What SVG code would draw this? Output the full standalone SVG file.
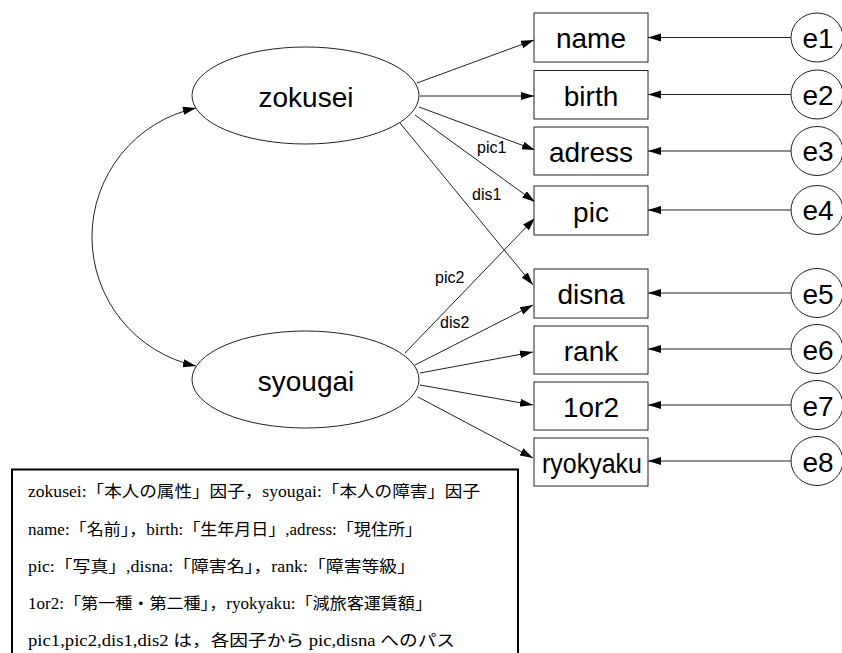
<svg xmlns="http://www.w3.org/2000/svg" width="842" height="653" viewBox="0 0 842 653">
<style>
.lat{fill:#fff;stroke:#222;stroke-width:1}
.box{fill:#fff;stroke:#222;stroke-width:1}
.t{font-family:"Liberation Sans",Arial,sans-serif;font-size:28px;fill:#000;text-anchor:middle}
.lbl{font-family:"Liberation Sans",Arial,sans-serif;font-size:16px;fill:#000}
.leg{font-family:"Liberation Serif","Noto Sans CJK JP",serif;font-size:16px;fill:#000}
.c{fill:none;stroke:#222;stroke-width:1}
</style>
<defs>
<marker id="ah" markerUnits="userSpaceOnUse" markerWidth="14" markerHeight="9" refX="13" refY="4" orient="auto">
<path d="M0,0 L13,4 L0,8 z" fill="#000"/>
</marker>
<marker id="ahs" markerUnits="userSpaceOnUse" markerWidth="14" markerHeight="9" refX="0" refY="4" orient="auto">
<path d="M13,0 L0,4 L13,8 z" fill="#000"/>
</marker>
</defs>
<rect width="842" height="653" fill="#fff"/>

<g id="connectors">
<path class="c" d="M196,108 A132,132 0 0,0 196,366" marker-start="url(#ahs)" marker-end="url(#ah)"/>
<line class="c" x1="417" y1="83" x2="534" y2="40" marker-end="url(#ah)"/>
<line class="c" x1="420" y1="96" x2="534" y2="96" marker-end="url(#ah)"/>
<line class="c" x1="419" y1="107" x2="535" y2="150" marker-end="url(#ah)"/>
<line class="c" x1="415" y1="115" x2="535" y2="202" marker-end="url(#ah)"/>
<line class="c" x1="400" y1="123" x2="533" y2="285" marker-end="url(#ah)"/>
<line class="c" x1="405" y1="353" x2="535" y2="218" marker-end="url(#ah)"/>
<line class="c" x1="415" y1="365" x2="533" y2="305" marker-end="url(#ah)"/>
<line class="c" x1="420" y1="373" x2="533" y2="352" marker-end="url(#ah)"/>
<line class="c" x1="420" y1="385" x2="533" y2="405" marker-end="url(#ah)"/>
<line class="c" x1="418" y1="397" x2="533" y2="458" marker-end="url(#ah)"/>
<line class="c" x1="791" y1="37.5" x2="648" y2="37.5" marker-end="url(#ah)"/>
<line class="c" x1="791" y1="94.5" x2="648" y2="94.5" marker-end="url(#ah)"/>
<line class="c" x1="791" y1="151" x2="648" y2="151" marker-end="url(#ah)"/>
<line class="c" x1="791" y1="210" x2="648" y2="210" marker-end="url(#ah)"/>
<line class="c" x1="791" y1="293" x2="648" y2="293" marker-end="url(#ah)"/>
<line class="c" x1="791" y1="349" x2="648" y2="349" marker-end="url(#ah)"/>
<line class="c" x1="791" y1="405" x2="648" y2="405" marker-end="url(#ah)"/>
<line class="c" x1="791" y1="461" x2="648" y2="461" marker-end="url(#ah)"/>
<text class="lbl" x="477" y="153">pic1</text>
<text class="lbl" x="472" y="200">dis1</text>
<text class="lbl" x="435" y="283">pic2</text>
<text class="lbl" x="440" y="328">dis2</text>
</g>

<g id="zokusei"><ellipse class="lat" cx="305.5" cy="95.5" rx="113.5" ry="48.5"/><text class="t" x="306" y="107">zokusei</text></g>
<g id="syougai"><ellipse class="lat" cx="305.5" cy="379.5" rx="113.5" ry="48.5"/><text class="t" x="306" y="391">syougai</text></g>

<g id="name"><rect class="box" x="534" y="13" width="114" height="49"/><text class="t" x="591" y="48">name</text></g>
<g id="birth"><rect class="box" x="534" y="70.5" width="114" height="48.5"/><text class="t" x="591" y="106">birth</text></g>
<g id="adress"><rect class="box" x="534" y="127" width="114" height="48"/><text class="t" x="591" y="162">adress</text></g>
<g id="pic"><rect class="box" x="534" y="186" width="114" height="49"/><text class="t" x="591" y="222">pic</text></g>
<g id="disna"><rect class="box" x="534" y="269" width="114" height="49"/><text class="t" x="591" y="304">disna</text></g>
<g id="rank"><rect class="box" x="534" y="326" width="114" height="48"/><text class="t" x="591" y="361">rank</text></g>
<g id="1or2"><rect class="box" x="534" y="382" width="114" height="48"/><text class="t" x="591" y="417">1or2</text></g>
<g id="ryokyaku"><rect class="box" x="534" y="438" width="114" height="48"/><text class="t" x="592" y="473" textLength="100" lengthAdjust="spacingAndGlyphs">ryokyaku</text></g>

<g id="e1"><ellipse class="lat" cx="817" cy="37.5" rx="26" ry="24.5"/><text class="t" x="818" y="48">e1</text></g>
<g id="e2"><ellipse class="lat" cx="817" cy="94.5" rx="26" ry="24.5"/><text class="t" x="818" y="105">e2</text></g>
<g id="e3"><ellipse class="lat" cx="817" cy="151" rx="26" ry="24.5"/><text class="t" x="818" y="161">e3</text></g>
<g id="e4"><ellipse class="lat" cx="817" cy="210" rx="26" ry="24.5"/><text class="t" x="818" y="220">e4</text></g>
<g id="e5"><ellipse class="lat" cx="817" cy="293" rx="26" ry="24.5"/><text class="t" x="818" y="304">e5</text></g>
<g id="e6"><ellipse class="lat" cx="817" cy="349" rx="26" ry="24.5"/><text class="t" x="818" y="360">e6</text></g>
<g id="e7"><ellipse class="lat" cx="817" cy="405" rx="26" ry="24.5"/><text class="t" x="818" y="416">e7</text></g>
<g id="e8"><ellipse class="lat" cx="817" cy="461" rx="26" ry="24.5"/><text class="t" x="818" y="472">e8</text></g>

<g id="legend">
<path d="M12,660 L12,469.5 L518,469.5 L518,660" fill="none" stroke="#000" stroke-width="2"/>
<text class="leg" x="28" y="497" textLength="452" lengthAdjust="spacingAndGlyphs">zokusei:「本人の属性」因子，syougai:「本人の障害」因子</text>
<text class="leg" x="28" y="535" textLength="394" lengthAdjust="spacingAndGlyphs">name:「名前」，birth:「生年月日」,adress:「現住所」</text>
<text class="leg" x="28" y="572" textLength="387" lengthAdjust="spacingAndGlyphs">pic:「写真」,disna:「障害名」，rank:「障害等級」</text>
<text class="leg" x="28" y="609" textLength="404" lengthAdjust="spacingAndGlyphs">1or2:「第一種・第二種」，ryokyaku:「減旅客運賃額」</text>
<text class="leg" x="28" y="646" textLength="427" lengthAdjust="spacingAndGlyphs">pic1,pic2,dis1,dis2 は，各因子から pic,disna へのパス</text>
</g>
</svg>
